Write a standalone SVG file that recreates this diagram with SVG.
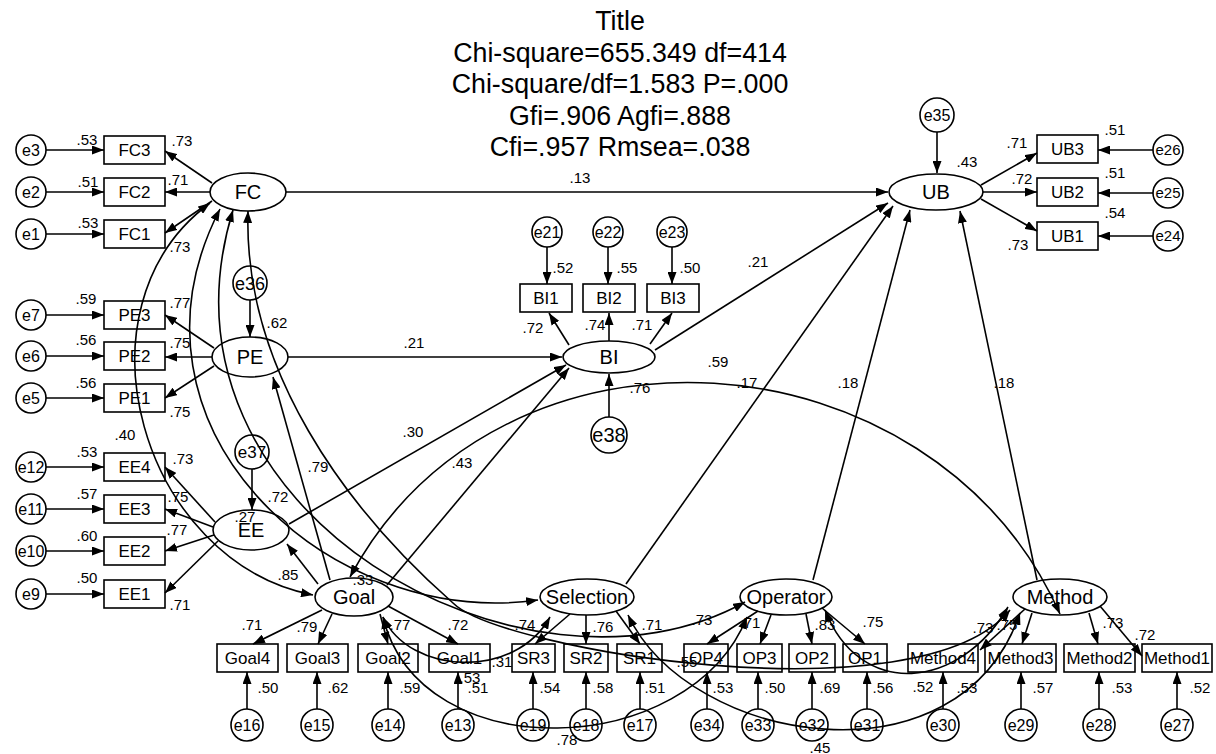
<svg xmlns="http://www.w3.org/2000/svg" width="1216" height="754" viewBox="0 0 1216 754">
<style>
.nd rect,.nd ellipse,.nd circle{fill:#fff;stroke:#000;stroke-width:1.6}
text{font-family:"Liberation Sans",Arial,sans-serif;fill:#000;text-anchor:middle}
.lv{font-size:20px}
.ob{font-size:17px}
.er{font-size:16px}
.n{font-size:15px}
.ttl{font-size:26.8px}
#conn path,#conn line{stroke:#000;stroke-width:1.6;fill:none}
.a{marker-end:url(#ah)}
.b{marker-start:url(#as);marker-end:url(#ah)}
</style>
<defs>
<marker id="ah" markerUnits="userSpaceOnUse" markerWidth="13" markerHeight="9" refX="12" refY="4.5" orient="auto"><path d="M0,0 L12,4.5 L0,9 z" fill="#000"/></marker>
<marker id="as" markerUnits="userSpaceOnUse" markerWidth="13" markerHeight="9" refX="12" refY="4.5" orient="auto-start-reverse"><path d="M0,0 L12,4.5 L0,9 z" fill="#000"/></marker>
</defs>
<rect width="1216" height="754" fill="#fff"/>
<g id="title" class="ttl">
<text x="620" y="30">Title</text>
<text x="620" y="61.5">Chi-square=655.349 df=414</text>
<text x="620" y="93">Chi-square/df=1.583 P=.000</text>
<text x="620" y="124.5">Gfi=.906 Agfi=.888</text>
<text x="620" y="156">Cfi=.957 Rmsea=.038</text>
</g>
<!-- latent nodes -->
<g id="FC" class="nd"><ellipse cx="248" cy="192" rx="38" ry="19"/><text class="lv" x="248" y="199">FC</text></g>
<g id="PE" class="nd"><ellipse cx="250" cy="357" rx="38" ry="20"/><text class="lv" x="250" y="364">PE</text></g>
<g id="EE" class="nd"><ellipse cx="251" cy="530" rx="38" ry="20"/><text class="lv" x="251" y="537">EE</text></g>
<g id="BI" class="nd"><ellipse cx="609" cy="357" rx="46" ry="16"/><text class="lv" x="609" y="364">BI</text></g>
<g id="UB" class="nd"><ellipse cx="936" cy="192" rx="47" ry="18"/><text class="lv" x="936" y="199">UB</text></g>
<g id="Goal" class="nd"><ellipse cx="354" cy="597" rx="39" ry="19"/><text class="lv" x="354" y="604">Goal</text></g>
<g id="Selection" class="nd"><ellipse cx="587" cy="597" rx="47" ry="18"/><text class="lv" x="587" y="604">Selection</text></g>
<g id="Operator" class="nd"><ellipse cx="786" cy="597" rx="46" ry="18"/><text class="lv" x="786" y="604">Operator</text></g>
<g id="Method" class="nd"><ellipse cx="1060" cy="597" rx="47" ry="18"/><text class="lv" x="1060" y="604">Method</text></g>
<!-- left indicators -->
<g id="FC3" class="nd"><rect x="104" y="136" width="61" height="28"/><text class="ob" x="134.5" y="156">FC3</text></g>
<g id="FC2" class="nd"><rect x="104" y="178" width="61" height="28"/><text class="ob" x="134.5" y="198">FC2</text></g>
<g id="FC1" class="nd"><rect x="104" y="220" width="61" height="28"/><text class="ob" x="134.5" y="240">FC1</text></g>
<g id="PE3" class="nd"><rect x="104" y="301" width="61" height="28"/><text class="ob" x="134.5" y="321">PE3</text></g>
<g id="PE2" class="nd"><rect x="104" y="342" width="61" height="28"/><text class="ob" x="134.5" y="362">PE2</text></g>
<g id="PE1" class="nd"><rect x="104" y="384" width="61" height="28"/><text class="ob" x="134.5" y="404">PE1</text></g>
<g id="EE4" class="nd"><rect x="104" y="453" width="61" height="28"/><text class="ob" x="134.5" y="473">EE4</text></g>
<g id="EE3" class="nd"><rect x="104" y="495" width="61" height="28"/><text class="ob" x="134.5" y="515">EE3</text></g>
<g id="EE2" class="nd"><rect x="104" y="537" width="61" height="28"/><text class="ob" x="134.5" y="557">EE2</text></g>
<g id="EE1" class="nd"><rect x="104" y="580" width="61" height="28"/><text class="ob" x="134.5" y="600">EE1</text></g>
<!-- left errors -->
<g id="e3" class="nd"><circle cx="31" cy="150" r="15"/><text class="er" x="31" y="156">e3</text></g>
<g id="e2" class="nd"><circle cx="31" cy="192" r="15"/><text class="er" x="31" y="198">e2</text></g>
<g id="e1" class="nd"><circle cx="31" cy="234" r="15"/><text class="er" x="31" y="240">e1</text></g>
<g id="e7" class="nd"><circle cx="31" cy="315" r="15"/><text class="er" x="31" y="321">e7</text></g>
<g id="e6" class="nd"><circle cx="31" cy="356" r="15"/><text class="er" x="31" y="362">e6</text></g>
<g id="e5" class="nd"><circle cx="31" cy="398" r="15"/><text class="er" x="31" y="404">e5</text></g>
<g id="e12" class="nd"><circle cx="31" cy="467" r="15"/><text class="er" x="31" y="473">e12</text></g>
<g id="e11" class="nd"><circle cx="31" cy="509" r="15"/><text class="er" x="31" y="515">e11</text></g>
<g id="e10" class="nd"><circle cx="31" cy="551" r="15"/><text class="er" x="31" y="557">e10</text></g>
<g id="e9" class="nd"><circle cx="31" cy="594" r="15"/><text class="er" x="31" y="600">e9</text></g>
<g id="e36" class="nd"><circle cx="250" cy="283" r="17"/><text class="er" x="250" y="290" style="font-size:18px">e36</text></g>
<g id="e37" class="nd"><circle cx="252" cy="452" r="17"/><text class="er" x="252" y="458" style="font-size:17px">e37</text></g>
<!-- BI block -->
<g id="e21" class="nd"><circle cx="547" cy="232" r="15"/><text class="er" x="547" y="238">e21</text></g>
<g id="e22" class="nd"><circle cx="608" cy="232" r="15"/><text class="er" x="608" y="238">e22</text></g>
<g id="e23" class="nd"><circle cx="672" cy="232" r="15"/><text class="er" x="672" y="238">e23</text></g>
<g id="BI1" class="nd"><rect x="520" y="284" width="52" height="28"/><text class="ob" x="546" y="304">BI1</text></g>
<g id="BI2" class="nd"><rect x="583" y="284" width="52" height="28"/><text class="ob" x="609" y="304">BI2</text></g>
<g id="BI3" class="nd"><rect x="647" y="284" width="52" height="28"/><text class="ob" x="673" y="304">BI3</text></g>
<g id="e38" class="nd"><circle cx="609" cy="435" r="18"/><text class="er" x="609" y="442" style="font-size:20px">e38</text></g>
<!-- UB block -->
<g id="e35" class="nd"><circle cx="937" cy="115" r="17"/><text class="er" x="937" y="121">e35</text></g>
<g id="UB3" class="nd"><rect x="1037" y="135" width="61" height="28"/><text class="ob" x="1067.5" y="155">UB3</text></g>
<g id="UB2" class="nd"><rect x="1037" y="178" width="61" height="28"/><text class="ob" x="1067.5" y="198">UB2</text></g>
<g id="UB1" class="nd"><rect x="1037" y="222" width="61" height="28"/><text class="ob" x="1067.5" y="242">UB1</text></g>
<g id="e26" class="nd"><circle cx="1168" cy="150" r="15"/><text class="er" x="1168" y="155" style="font-size:15px">e26</text></g>
<g id="e25" class="nd"><circle cx="1168" cy="193" r="15"/><text class="er" x="1168" y="198" style="font-size:15px">e25</text></g>
<g id="e24" class="nd"><circle cx="1168" cy="236" r="15"/><text class="er" x="1168" y="241" style="font-size:15px">e24</text></g>
<!-- bottom indicators -->
<g id="Goal4" class="nd"><rect x="217" y="644" width="61" height="28"/><text class="ob" x="247.5" y="664">Goal4</text></g>
<g id="Goal3" class="nd"><rect x="287" y="644" width="61" height="28"/><text class="ob" x="317.5" y="664">Goal3</text></g>
<g id="Goal2" class="nd"><rect x="358" y="644" width="60" height="28"/><text class="ob" x="388" y="664">Goal2</text></g>
<g id="Goal1" class="nd"><rect x="429" y="644" width="61" height="28"/><text class="ob" x="459.5" y="664">Goal1</text></g>
<g id="SR3" class="nd"><rect x="512" y="644" width="43" height="28"/><text class="ob" x="533.5" y="664">SR3</text></g>
<g id="SR2" class="nd"><rect x="564" y="644" width="44" height="28"/><text class="ob" x="586" y="664">SR2</text></g>
<g id="SR1" class="nd"><rect x="617" y="644" width="45" height="28"/><text class="ob" x="639.5" y="664">SR1</text></g>
<g id="OP4" class="nd"><rect x="684" y="644" width="44" height="28"/><text class="ob" x="706" y="664">OP4</text></g>
<g id="OP3" class="nd"><rect x="737" y="644" width="45" height="28"/><text class="ob" x="759.5" y="664">OP3</text></g>
<g id="OP2" class="nd"><rect x="789" y="644" width="46" height="28"/><text class="ob" x="812" y="664">OP2</text></g>
<g id="OP1" class="nd"><rect x="843" y="644" width="44" height="28"/><text class="ob" x="865" y="664">OP1</text></g>
<g id="Method4" class="nd"><rect x="908" y="644" width="70" height="28"/><text class="ob" x="943" y="664">Method4</text></g>
<g id="Method3" class="nd"><rect x="985" y="644" width="71" height="28"/><text class="ob" x="1020.5" y="664">Method3</text></g>
<g id="Method2" class="nd"><rect x="1064" y="644" width="71" height="28"/><text class="ob" x="1099.5" y="664">Method2</text></g>
<g id="Method1" class="nd"><rect x="1142" y="644" width="70" height="28"/><text class="ob" x="1177" y="664">Method1</text></g>
<!-- bottom errors -->
<g id="e16" class="nd"><circle cx="247" cy="725" r="16"/><text class="er" x="247" y="731">e16</text></g>
<g id="e15" class="nd"><circle cx="317" cy="725" r="16"/><text class="er" x="317" y="731">e15</text></g>
<g id="e14" class="nd"><circle cx="388" cy="725" r="16"/><text class="er" x="388" y="731">e14</text></g>
<g id="e13" class="nd"><circle cx="458" cy="725" r="16"/><text class="er" x="458" y="731">e13</text></g>
<g id="e19" class="nd"><circle cx="533" cy="725" r="16"/><text class="er" x="533" y="731">e19</text></g>
<g id="e18" class="nd"><circle cx="586" cy="725" r="16"/><text class="er" x="586" y="731">e18</text></g>
<g id="e17" class="nd"><circle cx="640" cy="725" r="16"/><text class="er" x="640" y="731">e17</text></g>
<g id="e34" class="nd"><circle cx="707" cy="725" r="16"/><text class="er" x="707" y="731">e34</text></g>
<g id="e33" class="nd"><circle cx="758" cy="725" r="16"/><text class="er" x="758" y="731">e33</text></g>
<g id="e32" class="nd"><circle cx="812" cy="725" r="16"/><text class="er" x="812" y="731">e32</text></g>
<g id="e31" class="nd"><circle cx="867" cy="725" r="16"/><text class="er" x="867" y="731">e31</text></g>
<g id="e30" class="nd"><circle cx="943" cy="725" r="16"/><text class="er" x="943" y="731">e30</text></g>
<g id="e29" class="nd"><circle cx="1021" cy="725" r="16"/><text class="er" x="1021" y="731">e29</text></g>
<g id="e28" class="nd"><circle cx="1099" cy="725" r="16"/><text class="er" x="1099" y="731">e28</text></g>
<g id="e27" class="nd"><circle cx="1177" cy="725" r="16"/><text class="er" x="1177" y="731">e27</text></g>

<g id="conn">
<!-- error arrows left -->
<line class="a" x1="46" y1="150" x2="104" y2="150"/>
<line class="a" x1="46" y1="192" x2="104" y2="192"/>
<line class="a" x1="46" y1="234" x2="104" y2="234"/>
<line class="a" x1="46" y1="315" x2="104" y2="315"/>
<line class="a" x1="46" y1="356" x2="104" y2="356"/>
<line class="a" x1="46" y1="398" x2="104" y2="398"/>
<line class="a" x1="46" y1="467" x2="104" y2="467"/>
<line class="a" x1="46" y1="509" x2="104" y2="509"/>
<line class="a" x1="46" y1="551" x2="104" y2="551"/>
<line class="a" x1="46" y1="594" x2="104" y2="594"/>
<!-- loadings left -->
<line class="a" x1="212" y1="183" x2="165" y2="151"/>
<line class="a" x1="210" y1="192" x2="165" y2="192"/>
<line class="a" x1="212" y1="201" x2="165" y2="233"/>
<line class="a" x1="214" y1="348" x2="165" y2="315"/>
<line class="a" x1="212" y1="357" x2="165" y2="357"/>
<line class="a" x1="214" y1="366" x2="165" y2="398"/>
<line class="a" x1="215" y1="522" x2="165" y2="467"/>
<line class="a" x1="213" y1="527" x2="165" y2="509"/>
<line class="a" x1="214" y1="535" x2="165" y2="551"/>
<line class="a" x1="218" y1="541" x2="165" y2="593"/>
<line class="a" x1="250" y1="300" x2="250" y2="337"/>
<line class="a" x1="252" y1="469" x2="252" y2="510"/>
<!-- BI block -->
<line class="a" x1="547" y1="247" x2="547" y2="284"/>
<line class="a" x1="608" y1="247" x2="608" y2="284"/>
<line class="a" x1="672" y1="247" x2="672" y2="284"/>
<line class="a" x1="569" y1="345" x2="549" y2="313"/>
<line class="a" x1="609" y1="341" x2="609" y2="313"/>
<line class="a" x1="650" y1="344" x2="672" y2="313"/>
<line class="a" x1="609" y1="417" x2="609" y2="374"/>
<!-- UB block -->
<line class="a" x1="937" y1="132" x2="937" y2="173"/>
<line class="a" x1="981" y1="185" x2="1037" y2="153"/>
<line class="a" x1="983" y1="192" x2="1037" y2="192"/>
<line class="a" x1="981" y1="199" x2="1037" y2="231"/>
<line class="a" x1="1153" y1="150" x2="1098" y2="150"/>
<line class="a" x1="1153" y1="193" x2="1098" y2="193"/>
<line class="a" x1="1153" y1="236" x2="1098" y2="236"/>
<!-- structural paths -->
<line class="a" x1="286" y1="192" x2="888" y2="192"/>
<line class="a" x1="288" y1="357" x2="562" y2="357"/>
<line class="a" x1="289" y1="524" x2="566" y2="365"/>
<line class="a" x1="387" y1="585" x2="569" y2="368"/>
<line class="a" x1="330" y1="580" x2="273" y2="377"/>
<line class="a" x1="318" y1="584" x2="287" y2="544"/>
<line class="a" x1="655" y1="350" x2="888" y2="203"/>
<line class="a" x1="626" y1="584" x2="893" y2="206"/>
<line class="a" x1="813" y1="580" x2="910" y2="210"/>
<line class="a" x1="1037" y1="580" x2="960" y2="211"/>
<!-- bottom loadings -->
<line class="a" x1="322" y1="610" x2="253" y2="644"/>
<line class="a" x1="332" y1="614" x2="318" y2="644"/>
<line class="a" x1="380" y1="614" x2="388" y2="644"/>
<line class="a" x1="388" y1="606" x2="458" y2="644"/>
<line class="a" x1="570" y1="614" x2="535" y2="644"/>
<line class="a" x1="586" y1="615" x2="586" y2="644"/>
<line class="a" x1="616" y1="611" x2="640" y2="644"/>
<line class="a" x1="758" y1="611" x2="707" y2="644"/>
<line class="a" x1="771" y1="615" x2="760" y2="644"/>
<line class="a" x1="806" y1="614" x2="812" y2="644"/>
<line class="a" x1="822" y1="608" x2="865" y2="644"/>
<line class="a" x1="1025" y1="609" x2="980" y2="650"/>
<line class="a" x1="1032" y1="613" x2="1022" y2="644"/>
<line class="a" x1="1089" y1="613" x2="1098" y2="644"/>
<line class="a" x1="1100" y1="606" x2="1142" y2="656"/>
<!-- bottom error arrows -->
<line class="a" x1="247" y1="709" x2="247" y2="672"/>
<line class="a" x1="317" y1="709" x2="317" y2="672"/>
<line class="a" x1="388" y1="709" x2="388" y2="672"/>
<line class="a" x1="458" y1="709" x2="458" y2="672"/>
<line class="a" x1="533" y1="709" x2="533" y2="672"/>
<line class="a" x1="586" y1="709" x2="586" y2="672"/>
<line class="a" x1="640" y1="709" x2="640" y2="672"/>
<line class="a" x1="707" y1="709" x2="707" y2="672"/>
<line class="a" x1="758" y1="709" x2="758" y2="672"/>
<line class="a" x1="812" y1="709" x2="812" y2="672"/>
<line class="a" x1="867" y1="709" x2="867" y2="672"/>
<line class="a" x1="943" y1="709" x2="943" y2="672"/>
<line class="a" x1="1021" y1="709" x2="1021" y2="672"/>
<line class="a" x1="1099" y1="709" x2="1099" y2="672"/>
<line class="a" x1="1177" y1="709" x2="1177" y2="672"/>
<!-- covariances -->
<path class="b" d="M210,203 C67,309 143,562 313,595"/>
<path class="b" d="M220,209 C108,426 327,630 538,600"/>
<path class="b" d="M233,210 C140,514 528,723 745,602"/>
<path class="b" d="M248,211 C243,369 346,509 453,603 C500,650 920,720 1010,610"/>
<path class="b" d="M350,577 C501,296 933,329 1060,614"/>
<path class="b" d="M383,617 C410,675 515,680 550,617"/>
<path class="b" d="M383,617 C420,770 690,760 747,617"/>
<path class="b" d="M628,615 C690,745 960,790 1020,613"/>
<path class="b" d="M825,610 C860,700 960,690 1008,607"/>
</g>

<g id="labels" class="n">
<text x="87" y="145">.53</text><text x="182" y="146">.73</text>
<text x="88" y="187">.51</text><text x="178" y="185">.71</text>
<text x="88" y="228">.53</text><text x="180" y="252">.73</text>
<text x="86" y="304">.59</text><text x="180" y="308">.77</text>
<text x="86" y="345">.56</text><text x="180" y="348">.75</text>
<text x="86" y="388">.56</text><text x="180" y="417">.75</text>
<text x="277" y="328">.62</text>
<text x="125" y="440">.40</text>
<text x="87" y="457">.53</text><text x="183" y="464">.73</text>
<text x="87" y="499">.57</text><text x="178" y="502">.75</text>
<text x="87" y="541">.60</text><text x="177" y="535">.77</text>
<text x="87" y="583">.50</text><text x="180" y="610">.71</text>
<text x="245" y="522">.27</text><text x="278" y="502">.72</text>
<text x="318" y="472">.79</text><text x="288" y="580">.85</text>
<text x="563" y="273">.52</text><text x="627" y="273">.55</text><text x="690" y="273">.50</text>
<text x="533" y="333">.72</text><text x="595" y="330">.74</text><text x="642" y="330">.71</text>
<text x="758" y="267">.21</text><text x="718" y="367">.59</text><text x="747" y="388">.17</text><text x="640" y="393">.76</text>
<text x="414" y="348">.21</text><text x="413" y="437">.30</text><text x="462" y="468">.43</text>
<text x="580" y="183">.13</text><text x="848" y="388">.18</text><text x="1004" y="388">.18</text>
<text x="967" y="167">.43</text><text x="1017" y="148">.71</text><text x="1115" y="135">.51</text>
<text x="1022" y="184">.72</text><text x="1115" y="178">.51</text><text x="1115" y="218">.54</text><text x="1018" y="250">.73</text>
<text x="252" y="630">.71</text><text x="307" y="632">.79</text><text x="400" y="630">.77</text><text x="458" y="630">.72</text>
<text x="268" y="693">.50</text><text x="338" y="693">.62</text><text x="410" y="693">.59</text><text x="478" y="693">.51</text>
<text x="470" y="683">.53</text><text x="363" y="585">.33</text><text x="502" y="667">.31</text>
<text x="525" y="630">.74</text><text x="603" y="632">.76</text><text x="652" y="630">.71</text>
<text x="702" y="625">.73</text><text x="750" y="628">.71</text><text x="825" y="630">.83</text><text x="873" y="627">.75</text>
<text x="550" y="693">.54</text><text x="603" y="693">.58</text><text x="655" y="693">.51</text><text x="723" y="693">.53</text>
<text x="775" y="693">.50</text><text x="830" y="693">.69</text><text x="883" y="693">.56</text>
<text x="687" y="667">.55</text><text x="567" y="745">.78</text><text x="820" y="753">.45</text>
<text x="983" y="633">.73</text><text x="1007" y="630">.75</text><text x="1113" y="628">.73</text><text x="1145" y="640">.72</text>
<text x="923" y="692">.52</text><text x="967" y="693">.53</text><text x="1043" y="693">.57</text><text x="1122" y="693">.53</text><text x="1200" y="693">.52</text>
</g>
</svg>
